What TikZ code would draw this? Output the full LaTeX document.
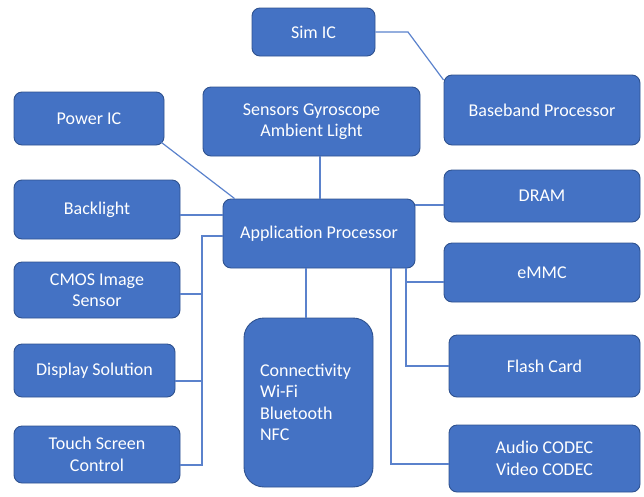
\documentclass[tikz,border=0pt]{standalone}
\usepackage{fontspec}
\setmainfont{Carlito}
\definecolor{boxblue}{HTML}{4472C4}
\definecolor{boxedge}{HTML}{2F528F}
\definecolor{wireblue}{HTML}{5B82CC}
\begin{document}
\begin{tikzpicture}[x=1pt,y=-1pt]
	\tikzset{blk/.style={draw=boxedge,fill=boxblue,line width=0.9pt,rounded corners=8pt,text=white,
		align=center,inner sep=0pt,font=\fontsize{18}{21.5}\selectfont},
		wire/.style={draw=wireblue,line width=1.2pt}}
	\useasboundingbox (0,0) rectangle (644,496);

	% boxes
	\node[blk,minimum width=123,minimum height=48] (sim) at (313.5,32) {Sim IC};
	\node[blk,minimum width=196,minimum height=70] (bb) at (542,110) {Baseband Processor};
	\node[blk,minimum width=150,minimum height=53] (pwr) at (89,118.5) {Power IC};
	\node[blk,minimum width=217,minimum height=69] (sens) at (311.5,121.5) {Sensors Gyroscope\\Ambient Light};
	\node[blk,minimum width=196,minimum height=52] (dram) at (542,196) {DRAM};
	\node[blk,minimum width=166,minimum height=59] (bl) at (97,209.5) {Backlight};
	\node[blk,minimum width=192,minimum height=69] (ap) at (319,233.5) {Application Processor};
	\node[blk,minimum width=166,minimum height=56] (cmos) at (97,290) {CMOS Image\\Sensor};
	\node[blk,minimum width=196,minimum height=59] (emmc) at (542,272.5) {eMMC};
	\node[blk,minimum width=161,minimum height=53] (disp) at (94.5,370.5) {Display Solution};
	\node[blk,minimum width=191,minimum height=62] (flash) at (544.5,366) {Flash Card};
	\node[blk,minimum width=166,minimum height=57] (touch) at (97,454.5) {Touch Screen\\Control};
	\node[blk,minimum width=191,minimum height=67] (codec) at (544.5,458.5) {Audio CODEC\\Video CODEC};
	\node[blk,rounded corners=20pt,minimum width=129,minimum height=169,text width=97,align=left]
		(conn) at (308.5,402.5) {Connectivity\\Wi-Fi\\Bluetooth\\NFC};

	% connectors
	\coordinate (simbend) at (408,32);
	\draw[wire] (sim.east) -- (simbend) -- (bb.west |- 0,80);
	\draw[wire] (pwr.south east) ++(-3,-3) -- ([xshift=12pt]ap.north west);
	\draw[wire] (sens.south -| 320,0) -- (ap.north -| 320,0);
	\draw[wire] (bl.east |- 0,215) -- (ap.west |- 0,215);
	\draw[wire] (ap.east |- 0,205) -- (dram.west |- 0,205);
	\draw[wire] (ap.south -| 306,0) -- (conn.north -| 306,0);

	% right bus
	\coordinate (rtop) at (406,268);
	\coordinate (rbot) at (406,366);
	\draw[wire] (rtop) -- (rbot) -- (flash.west);
	\draw[wire] (406,282) -- (emmc.west |- 0,282);
	\coordinate (ctop) at (391,268);
	\draw[wire] (ctop) -- (391,464) -- (codec.west |- 0,464);

	% left bus
	\coordinate (ltop) at (202,236);
	\coordinate (lbot) at (202,465);
	\draw[wire] (ap.west |- ltop) -- (ltop) -- (lbot) -- (touch.east |- lbot);
	\draw[wire] (cmos.east |- 0,294) -- (202,294);
	\draw[wire] (disp.east |- 0,381) -- (202,381);
\end{tikzpicture}
\end{document}
